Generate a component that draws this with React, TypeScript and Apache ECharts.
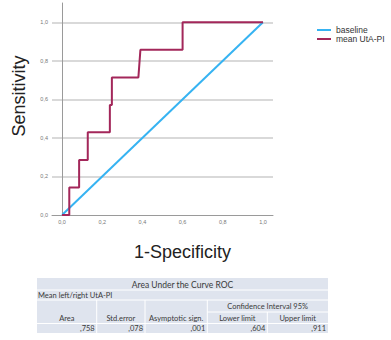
import React, { useEffect, useRef } from "react";
import * as echarts from "echarts";

// ---- data ----
const baselineX = [0, 1];
const baselineY = [0, 1];
const rocX = [0, 0.036, 0.036, 0.085, 0.085, 0.128, 0.128, 0.238, 0.238, 0.248, 0.248, 0.38, 0.39, 0.6, 0.6, 1.0];
const rocY = [0, 0, 0.143, 0.143, 0.286, 0.286, 0.429, 0.429, 0.571, 0.571, 0.714, 0.714, 0.857, 0.857, 1.0, 1.0];
const xTicks = [0, 0.2, 0.4, 0.6, 0.8, 1.0];
const yTicks = [0, 0.2, 0.4, 0.6, 0.8, 1.0];
const xExtent = [-0.05, 1.05];
const yExtent = [0, 1.1];
const yInterval = 0.2;
const seriesNames = ["baseline", "mean UtA-PI"];
const xTitle = "1-Specificity";
const yTitle = "Sensitivity";

const tableTitle = "Area Under the Curve ROC";
const tableSubtitle = "Mean left/right UtA-PI";
const ciLabel = "Confidence Interval 95%";
const tableHeaders = ["Area", "Std.error", "Asymptotic sign.", "Lower limit", "Upper limit"];
const tableValues = [",758", ",078", ",001", ",604", ",911"];

const fmt = (v: number) => v.toFixed(1).replace(".", ",");

export default function App() {
  const ref = useRef<HTMLDivElement>(null);
  useEffect(() => {
    if (!ref.current) return;
    const chart = echarts.init(ref.current, null, { renderer: "svg" });

    const colX = [37, 96.7, 145, 207.3, 267.3, 328];
    const tFont = "Lato";
    const tColor = "#3a3a3a";
    const tSize = 7.5;
    const white = { stroke: "#ffffff", lineWidth: 1 };
    const tableEls: any[] = [
      { type: "rect", shape: { x: 37, y: 278, width: 291, height: 55 }, style: { fill: "#dfe4ee" } },
      { type: "line", shape: { x1: 37, y1: 290, x2: 328, y2: 290 }, style: white },
      { type: "line", shape: { x1: 37, y1: 300, x2: 328, y2: 300 }, style: white },
      { type: "line", shape: { x1: 207.3, y1: 312, x2: 328, y2: 312 }, style: white },
      { type: "line", shape: { x1: 37, y1: 323.5, x2: 328, y2: 323.5 }, style: white },
      ...[1, 2, 3].map((i) => ({ type: "line", shape: { x1: colX[i], y1: 300, x2: colX[i], y2: 333 }, style: white })),
      { type: "line", shape: { x1: colX[4], y1: 312, x2: colX[4], y2: 333 }, style: white },
      { type: "text", x: 182.5, y: 284.5, style: { text: tableTitle, font: `${tSize + 1}px ${tFont}`, fill: tColor, textAlign: "center", textVerticalAlign: "middle" } },
      { type: "text", x: 38, y: 295.5, style: { text: tableSubtitle, font: `${tSize}px ${tFont}`, fill: tColor, textAlign: "left", textVerticalAlign: "middle" } },
      { type: "text", x: (colX[3] + colX[5]) / 2, y: 306, style: { text: ciLabel, font: `${tSize}px ${tFont}`, fill: tColor, textAlign: "center", textVerticalAlign: "middle" } },
      ...tableHeaders.map((h, i) => ({ type: "text", x: (colX[i] + colX[i + 1]) / 2, y: 318, style: { text: h, font: `${tSize}px ${tFont}`, fill: tColor, textAlign: "center", textVerticalAlign: "middle" } })),
      ...tableValues.map((v, i) => ({ type: "text", x: colX[i + 1] - 2, y: 328.5, style: { text: v, font: `${tSize}px ${tFont}`, fill: tColor, textAlign: "right", textVerticalAlign: "middle" } })),
    ];

    chart.setOption({
      animation: false,
      backgroundColor: "#ffffff",
      grid: { left: 52, right: 118, top: 3, bottom: 125, containLabel: false, outerBoundsMode: "none" },
      legend: {
        data: seriesNames,
        orient: "vertical",
        left: 317,
        top: 25.5,
        icon: "rect",
        itemWidth: 14,
        itemHeight: 2,
        itemGap: 0,
        itemTextGap: 4,
        textStyle: { fontFamily: "Liberation Sans", fontSize: 8.5, lineHeight: 9, color: "#333" },
        padding: 0,
      },
      xAxis: {
        type: "value",
        min: xExtent[0],
        max: xExtent[1],
        axisLine: { show: true, onZero: false, lineStyle: { color: "#9a9a9a", width: 1 } },
        axisTick: { show: false },
        splitLine: { show: false },
        axisLabel: { customValues: xTicks, formatter: fmt, fontSize: 5.5, color: "#777", fontFamily: "Liberation Sans", margin: 4 },
      },
      yAxis: {
        type: "value",
        min: yExtent[0],
        max: yExtent[1],
        interval: yInterval,
        axisLine: { show: true, lineStyle: { color: "#9a9a9a", width: 1 } },
        axisTick: { show: false },
        splitLine: { show: true, showMinLine: false, showMaxLine: false, lineStyle: { color: "#cccccc", width: 1.5, type: "solid" } },
        axisLabel: { customValues: yTicks, formatter: fmt, fontSize: 5.5, color: "#777", fontFamily: "Liberation Sans", margin: 4 },
      },
      series: [
        {
          type: "line",
          name: seriesNames[0],
          data: baselineX.map((x, i) => [x, baselineY[i]]),
          showSymbol: false,
          z: 3,
          color: "#36b3f2",
          lineStyle: { color: "#36b3f2", width: 2 },
        },
        {
          type: "line",
          name: seriesNames[1],
          data: rocX.map((x, i) => [x, rocY[i]]),
          showSymbol: false,
          z: 4,
          color: "#a3275a",
          lineStyle: { color: "#a3275a", width: 2 },
        },
      ],
      graphic: [
        { type: "text", x: 19, y: 96, rotation: Math.PI / 2, style: { text: yTitle, font: "18px 'Liberation Sans'", fill: "#222", textAlign: "center", textVerticalAlign: "middle" } },
        { type: "text", x: 182.5, y: 252, style: { text: xTitle, font: "18px 'Liberation Sans'", fill: "#222", textAlign: "center", textVerticalAlign: "middle" } },
        ...tableEls,
      ],
    });
    return () => chart.dispose();
  }, []);
  return <div ref={ref} style={{ position: "absolute", left: 0, top: 0, width: 391, height: 340, background: "#fff" }} />;
}
